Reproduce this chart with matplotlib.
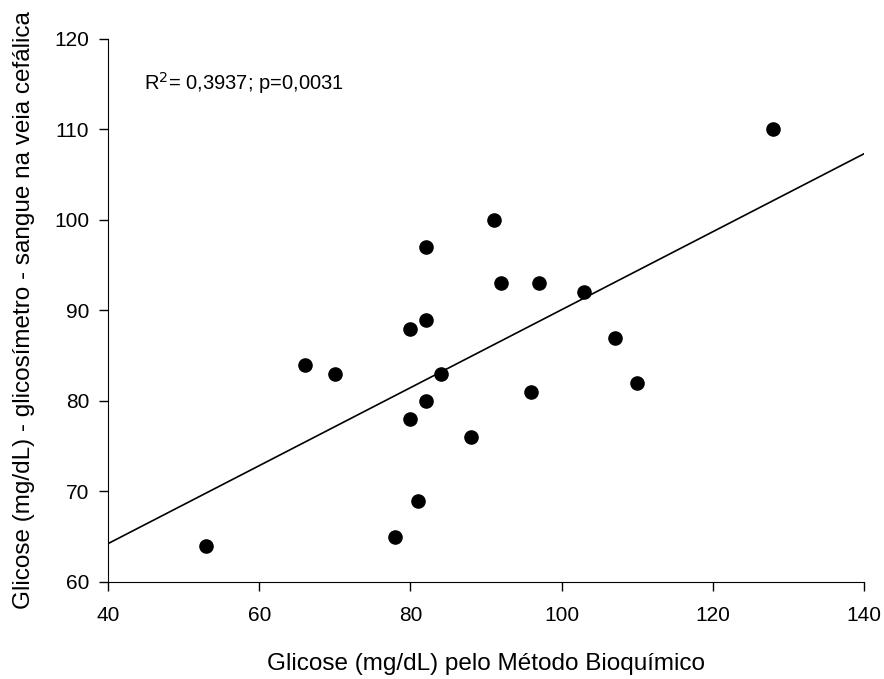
import numpy as np
import matplotlib
matplotlib.use("Agg")
import matplotlib.pyplot as plt

plt.rcParams["font.family"] = ["Liberation Sans", "DejaVu Sans"]

# valores (20 pacientes)
glic_bioq = [53, 66, 70, 78, 80, 80, 81, 82, 82, 82,
             84, 88, 91, 92, 96, 97, 103, 107, 110, 128]
glic_cefalica = [64, 84, 83, 65, 78, 88, 69, 80, 89, 97,
                 83, 76, 100, 93, 81, 93, 92, 87, 82, 110]
x_ticks = [40, 60, 80, 100, 120, 140]
y_ticks = [60, 70, 80, 90, 100, 110, 120]

x = np.array(glic_bioq, dtype=float)
y = np.array(glic_cefalica, dtype=float)
b, a = np.polyfit(x, y, 1)   # reta de regressao

fig = plt.figure(figsize=(8.84, 6.79), dpi=100)
ax = fig.add_axes([0.1222, 0.1429, 0.8552, 0.7997])

ax.scatter(x, y, s=90, color="black", zorder=3)
xl = np.array([x_ticks[0], x_ticks[-1]], dtype=float)
ax.plot(xl, a + b * xl, color="black", lw=1.2)

ax.set_xlim(40, 140)
ax.set_ylim(60, 120)
ax.set_xticks(x_ticks)
ax.set_yticks(y_ticks)
ax.spines["top"].set_visible(False)
ax.spines["right"].set_visible(False)
ax.tick_params(direction="out", length=6.5, width=1, labelsize=15)
ax.tick_params(axis="x", pad=11)
ax.tick_params(axis="y", pad=7)

ax.text(44.8, 115.1, "R$^2$= 0,3937; p=0,0031", fontsize=14.5, va="center")

ax.set_xlabel("Glicose (mg/dL) pelo Método Bioquímico", fontsize=17.5, labelpad=20)
ax.set_ylabel("Glicose (mg/dL) - glicosímetro - sangue na veia cefálica", fontsize=17.5, labelpad=14)

fig.savefig("out.png", dpi=100)
